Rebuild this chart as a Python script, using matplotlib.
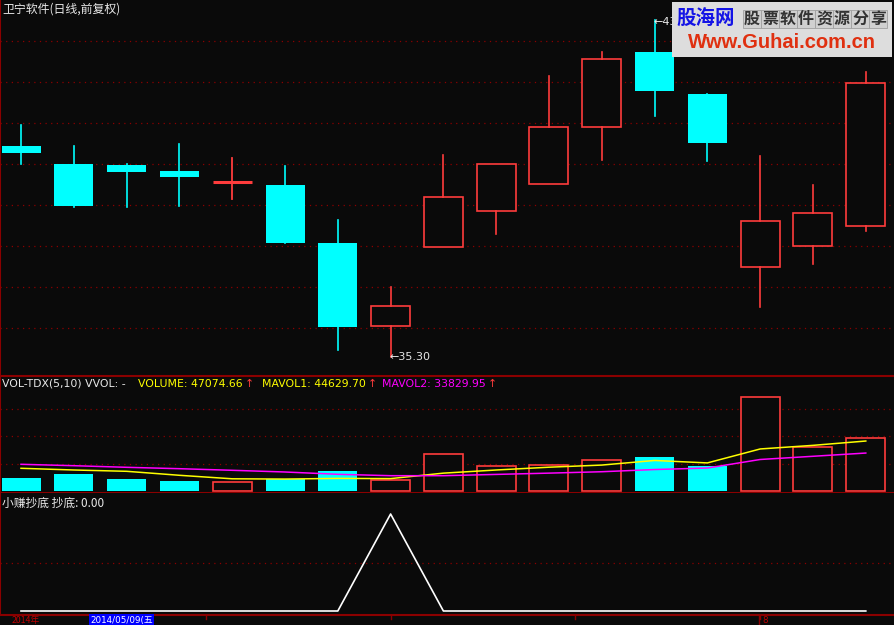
import matplotlib
matplotlib.use("Agg")
import matplotlib.pyplot as plt
from matplotlib.patches import Rectangle
from matplotlib.lines import Line2D
import numpy as np

plt.rcParams['font.family'] = ['DejaVu Sans', 'Noto Sans CJK SC']

# ---------------- data ----------------
opens = [40.44, 40.00, 39.98, 39.83, 39.57, 39.49, 38.07, 36.04, 37.98, 38.86,
         39.52, 40.90, 42.73, 41.71, 37.48, 37.99, 38.48]
highs = [40.95, 40.44, 40.00, 40.49, 40.15, 39.95, 38.63, 37.00, 40.22, 39.99,
         42.15, 42.73, 43.51, 41.71, 40.20, 39.49, 42.24]
lows = [40.00, 38.96, 38.96, 38.98, 39.15, 38.07, 35.46, 35.30, 37.98, 38.30,
        39.52, 40.10, 41.18, 40.08, 36.52, 37.57, 38.37]
closes = [40.28, 38.98, 39.80, 39.68, 39.57, 38.07, 36.03, 36.53, 39.19, 39.99,
          40.90, 42.55, 41.79, 40.52, 38.60, 38.80, 41.97]
volumes = [11410, 15000, 10510, 8710, 7820, 10240, 17970, 9610, 33220, 21920,
           22820, 27580, 30280, 22190, 84610, 38990, 47074.66]
mavol1 = [20120, 18600, 17430, 13840, 10690, 10456, 11050, 10870, 15772, 18592,
          21108, 23030, 27164, 24958, 37496, 40730, 44629.70]
mavol2 = [23720, 22460, 21020, 19770, 18330, 16800, 14730, 13480, 13480, 14641,
          15782, 17040, 19017, 20365, 28044, 30919, 33829.95]
chaodi = [0, 0, 0, 0, 0, 0, 0, 1, 0, 0, 0, 0, 0, 0, 0, 0, 0]
price_grid = [36, 37, 38, 39, 40, 41, 42, 43]
vol_grid = [24300, 49000, 73600]
title = "卫宁软件(日线,前复权)"
low_label = "←35.30"
high_label = "←43.51"
date_year = "2014年"
date_sel = "2014/05/09(五"
tick_pos = [3.5, 7, 10.5, 14]

# ---------------- style ----------------
BG = '#0a0a0a'
CYAN = '#00ffff'
RED = '#ff3c3c'
GRID = '#8b0000'
BORDER = '#8b0000'
W, H = 894, 625

fig = plt.figure(figsize=(W / 100, H / 100), dpi=100, facecolor=BG)

def fy(y):
    return 1 - y / H

def fx(x):
    return x / W

x0 = -21 / 52.8
x1 = (W - 21) / 52.8
bw = 39 / 52.8

ax1 = fig.add_axes([0, fy(376), 1, 376 / H])
ax2 = fig.add_axes([0, fy(493.3), 1, (493.3 - 376) / H])
ax3 = fig.add_axes([0, fy(615.3), 1, (615.3 - 493.3) / H])
for ax in (ax1, ax2, ax3):
    ax.set_facecolor(BG)
    ax.set_xlim(x0, x1)
    ax.set_xticks([])
    ax.set_yticks([])
    for s in ax.spines.values():
        s.set_visible(False)
    ax.spines['left'].set_visible(True)
    ax.spines['left'].set_color(BORDER)
    ax.spines['left'].set_linewidth(1.5)

dot = (0, (1, 3.5))

# ---------------- price panel ----------------
ax1.set_ylim(36 - 48 / 41, 36 + 328 / 41)
for g in price_grid:
    ax1.axhline(g, color=GRID, lw=0.9, ls=dot, zorder=0)

for i, (o, h, l, c) in enumerate(zip(opens, highs, lows, closes)):
    if c >= o:
        top, bot = max(o, c), min(o, c)
        if top - bot < 0.02:
            ax1.plot([i - bw / 2, i + bw / 2], [c, c], color=RED, lw=2.2,
                     solid_capstyle='butt', zorder=3)
            ax1.plot([i, i], [l, h], color=RED, lw=1.3, zorder=3)
        else:
            ax1.add_patch(Rectangle((i - bw / 2, bot), bw, top - bot,
                                    facecolor=BG, edgecolor=RED, lw=1.2, zorder=3))
            if h > top:
                ax1.plot([i, i], [top, h], color=RED, lw=1.2, zorder=3)
            if l < bot:
                ax1.plot([i, i], [l, bot], color=RED, lw=1.2, zorder=3)
    else:
        ax1.plot([i, i], [l, h], color=CYAN, lw=1.2, zorder=2)
        ax1.add_patch(Rectangle((i - bw / 2, c), bw, o - c,
                                facecolor=CYAN, edgecolor='none', zorder=3))

imin = int(np.argmin(lows))
imax = int(np.argmax(highs))
ax1.text(imin - 0.02, lows[imin], low_label, color='#e8e8e8', fontsize=8,
         ha='left', va='center', zorder=5)
ax1.text(imax - 0.02, highs[imax] - 0.05, high_label, color='#e8e8e8', fontsize=8,
         ha='left', va='center', zorder=5)

fig.text(fx(2), fy(9), title, color='#e8e8e8', fontsize=8.6,
         family=['Noto Sans CJK SC'], ha='left', va='center')

# ---------------- volume panel ----------------
scale = 47074.66 / 52.4
ax2.set_ylim(-(493.3 - 490.7) * scale, (490.7 - 376) * scale)
ax2.spines['top'].set_visible(True)
ax2.spines['top'].set_color(BORDER)
ax2.spines['top'].set_linewidth(1.5)
ax2.spines['bottom'].set_visible(True)
ax2.spines['bottom'].set_color(BORDER)
ax2.spines['bottom'].set_linewidth(1.5)
for g in vol_grid:
    ax2.axhline(g, color=GRID, lw=0.9, ls=dot, zorder=0)
for i, v in enumerate(volumes):
    if closes[i] >= opens[i]:
        ax2.add_patch(Rectangle((i - bw / 2, 0), bw, v, facecolor=BG,
                                edgecolor=RED, lw=1.2, zorder=2))
    else:
        ax2.add_patch(Rectangle((i - bw / 2, 0), bw, v, facecolor=CYAN,
                                edgecolor='none', zorder=2))
xs = np.arange(len(volumes))
ax2.plot(xs, mavol1, color='#ffff00', lw=1.1, zorder=4)
ax2.plot(xs, mavol2, color='#ff00ff', lw=1.1, zorder=4)

ty = fy(384)
fs = 7.8
renderer = fig.canvas.get_renderer()

def label_with_arrow(xpix, s, color):
    t = fig.text(fx(xpix), ty, s, color=color, fontsize=fs, va='center')
    bb = t.get_window_extent(renderer=renderer)
    fig.text(fx(bb.x1 + 2), ty, "↑", color=RED, fontsize=fs, va='center')

fig.text(fx(2), ty, "VOL-TDX(5,10) VVOL: -", color='#e8e8e8', fontsize=fs, va='center')
label_with_arrow(138, "VOLUME: %.2f" % volumes[-1], '#ffff00')
label_with_arrow(262, "MAVOL1: %.2f" % mavol1[-1], '#ffff00')
label_with_arrow(382, "MAVOL2: %.2f" % mavol2[-1], '#ff00ff')

# ---------------- indicator panel ----------------
ax3.set_ylim((611 - 615.3) / 97, (611 - 493.3) / 97)
ax3.spines['bottom'].set_visible(True)
ax3.spines['bottom'].set_color(BORDER)
ax3.spines['bottom'].set_linewidth(1.5)
ax3.axhline(0.5, color=GRID, lw=0.9, ls=dot, zorder=0)
ax3.plot(xs, chaodi, color='white', lw=1.2, zorder=3)
fig.text(fx(2), fy(503), "小赚抄底 抄底: %.2f" % chaodi[-1], color='#e8e8e8',
         fontsize=8.5, family=['Noto Sans CJK SC', 'DejaVu Sans'], va='center')

# ---------------- date strip ----------------
for t in tick_pos:
    xp = (21 + 52.8 * t) / W
    fig.add_artist(Line2D([xp, xp], [fy(615.3), fy(619)], color=BORDER, lw=1))
fig.add_artist(Line2D([fx(759), fx(759)], [fy(615.3), fy(625)], color=BORDER, lw=1))
fig.text(fx(12), fy(620.3), date_year, color='#c00000', fontsize=6.3,
         family=['Noto Sans CJK SC', 'DejaVu Sans'], va='center')
fig.text(fx(90), fy(620.3), date_sel, color='white', fontsize=6.3,
         family=['DejaVu Sans', 'Noto Sans CJK SC'], va='center',
         bbox=dict(boxstyle='square,pad=0.15', facecolor='#0000ff', edgecolor='none'))
fig.text(fx(762), fy(620.3), "8", color='#c00000', fontsize=6.3, va='center')

# ---------------- watermark ----------------
fig.add_artist(Rectangle((fx(672), fy(57)), fx(892) - fx(672), (57 - 2) / H,
                         transform=fig.transFigure, facecolor='#dddddd',
                         edgecolor='none', zorder=10))
fig.text(fx(706), fy(19), "股海网", color='#1414e6', fontsize=14, weight='bold',
         family=['Noto Sans CJK SC'], ha='center', va='center', zorder=11)
chars = "股票软件资源分享"
for k, ch in enumerate(chars):
    cx = 743 + 18 * k
    fig.add_artist(Rectangle((fx(cx), fy(28)), 18 / W, 18 / H,
                             transform=fig.transFigure, facecolor='#d0d0d0',
                             edgecolor='#a0a0a0', lw=0.6, zorder=11))
    fig.text(fx(cx + 9), fy(19), ch, color='#333333', fontsize=11.5, weight='bold',
             family=['Noto Sans CJK SC'], ha='center', va='center', zorder=12)
fig.text(fx(782), fy(42), "Www.Guhai.com.cn", color='#e03010', fontsize=14.5,
         weight='bold', family=['Liberation Sans'], ha='center', va='center', zorder=11)

fig.savefig("out.png", dpi=100, facecolor=BG)
